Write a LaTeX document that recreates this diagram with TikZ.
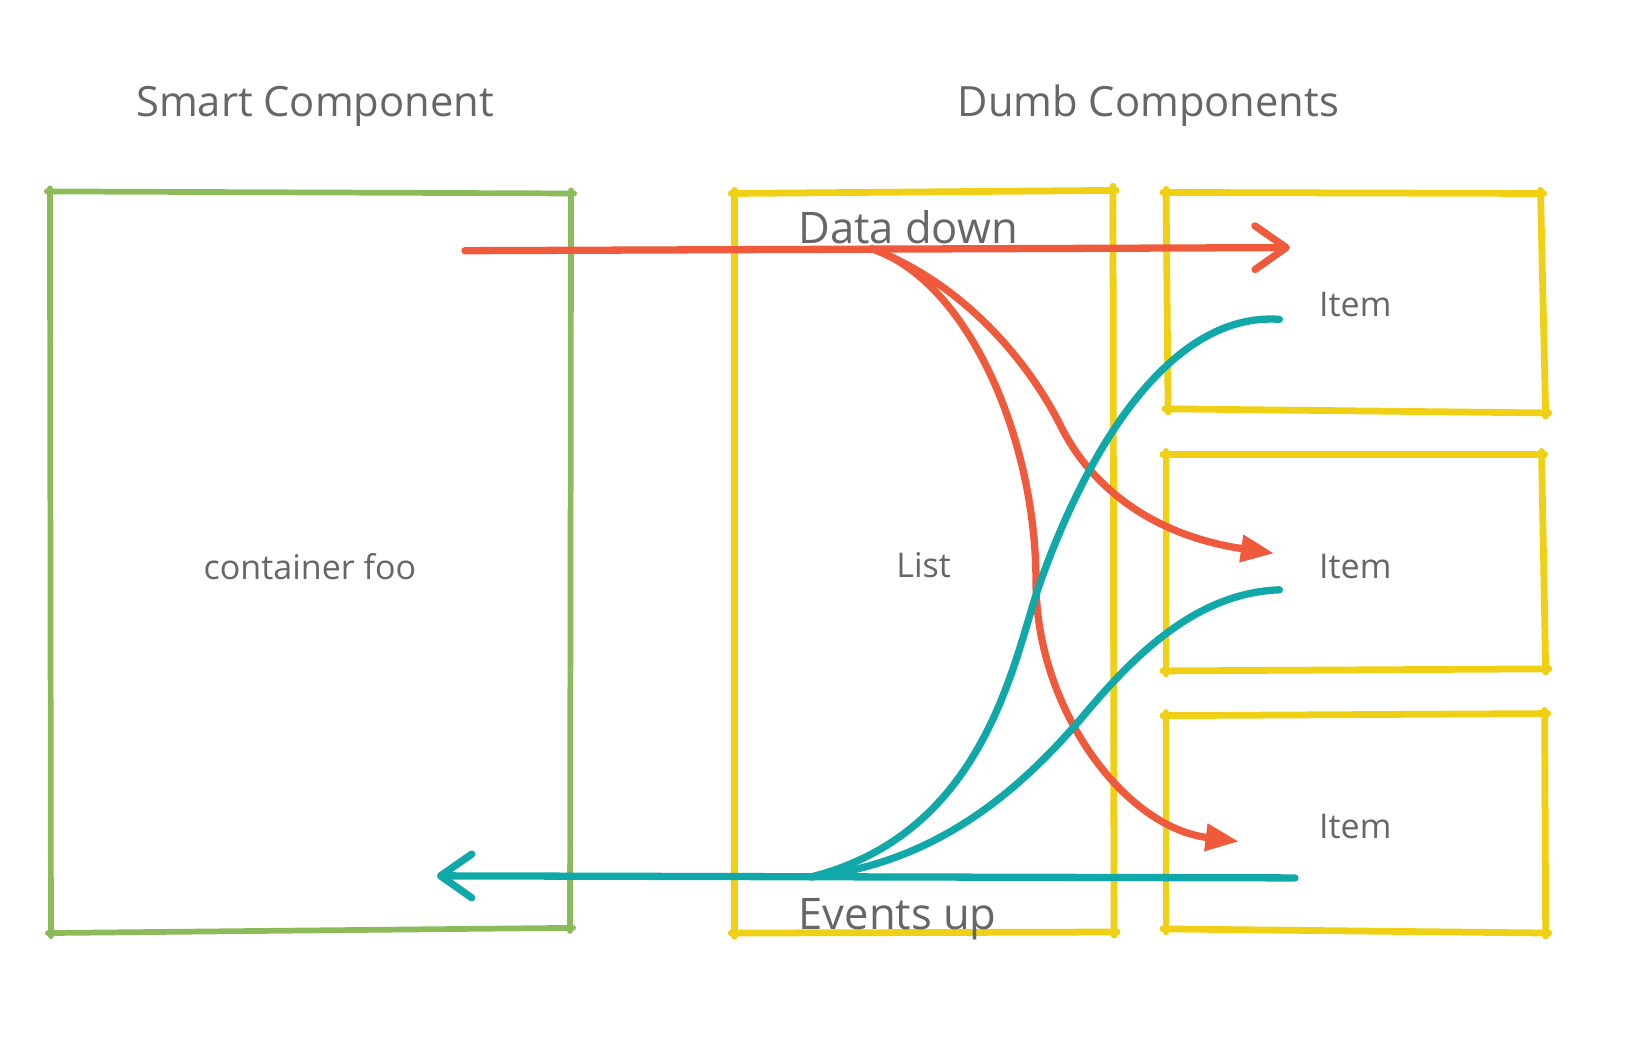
\documentclass[tikz,border=0pt]{standalone}
\usepackage{fontspec}
\setmainfont{Open Sans}
\usetikzlibrary{arrows.meta,calc}
\definecolor{txtgray}{HTML}{666666}
\definecolor{cgreen}{HTML}{8CBC5A}
\definecolor{cyellow}{HTML}{F0D014}
\definecolor{cred}{HTML}{F05A3C}
\definecolor{cteal}{HTML}{10A8A8}
\tikzset{
  gside/.style={draw=cgreen,line width=0.055cm,line cap=round},
  yside/.style={draw=cyellow,line width=0.065cm,line cap=round},
  redline/.style={draw=cred,line width=0.07cm,line cap=round,line join=round},
  tealline/.style={draw=cteal,line width=0.07cm,line cap=round,line join=round},
  title/.style={text=txtgray,font=\fontsize{11.4}{13}\selectfont,inner sep=0pt},
  flow/.style={text=txtgray,font=\fontsize{11.9}{13}\selectfont,inner sep=0pt},
  lab/.style={text=txtgray,font=\fontsize{9.3}{11}\selectfont,inner sep=0pt},
  barb/.style={-{Straight Barb[length=0.30cm,width=0.42cm,round]}},
  tri/.style={-{Triangle[length=0.32cm,width=0.25cm]}}
}
\begin{document}
\begin{tikzpicture}[x=0.01cm,y=-0.01cm]
\useasboundingbox (0,0) rectangle (1568,1020);
% titles
\node[title] (tsmart) at (303,102) {Smart Component};
\node[title] (tdumb) at (1104,102) {Dumb Components};
% green box
\coordinate (g1) at (48,184);
\coordinate (g2) at (549,186);
\coordinate (g3) at (548,892);
\coordinate (g4) at (49,897);
\draw[gside] ($(g1)+(-3,0)$) -- ($(g2)+(3,0)$);
\draw[gside] ($(g2)+(0,-3)$) -- ($(g3)+(0,3)$);
\draw[gside] ($(g3)+(3,0)$) -- ($(g4)+(-3,0)$);
\draw[gside] ($(g4)+(0,3)$) -- ($(g1)+(0,-3)$);
\node[lab] (cfoo) at (298,545) {container foo};
% list box
\coordinate (l1) at (706,186);
\coordinate (l2) at (1070,183);
\coordinate (l3) at (1071,896);
\coordinate (l4) at (706,897);
\draw[yside] ($(l1)+(-3,0)$) -- ($(l2)+(3,0)$);
\draw[yside] ($(l2)+(0,-4)$) -- ($(l3)+(0,3)$);
\draw[yside] ($(l3)+(3,0)$) -- ($(l4)+(-3,0)$);
\draw[yside] ($(l4)+(0,3)$) -- ($(l1)+(0,-3)$);
\node[lab] (list) at (888,543) {List};
% item boxes
\foreach \n/\ax/\ay/\bx/\by/\cx/\cy/\dx/\dy in {
  a/1121/185/1481/186/1486/397/1123/393,
  b/1121/437/1482/437/1486/643/1121/645,
  c/1121/688/1485/686/1486/897/1121/893}{
  \coordinate (\n1) at (\ax,\ay);
  \coordinate (\n2) at (\bx,\by);
  \coordinate (\n3) at (\cx,\cy);
  \coordinate (\n4) at (\dx,\dy);
  \draw[yside] ($(\n1)+(-3,0)$) -- ($(\n2)+(3,0)$);
  \draw[yside] ($(\n2)+(0,-3)$) -- ($(\n3)+(0,3)$);
  \draw[yside] ($(\n3)+(3,0)$) -- ($(\n4)+(-3,0)$);
  \draw[yside] ($(\n4)+(0,3)$) -- ($(\n1)+(0,-3)$);
}
\node[lab] (item1) at (1303,293) {Item};
\node[lab] (item2) at (1303,545) {Item};
\node[lab] (item3) at (1303,795) {Item};
% labels
\node[flow] (ddown) at (873,218) {Data down};
\node[flow] (evup) at (863,884) {Events up};
% red main arrow
\coordinate (rs) at (447,241);
\coordinate (rt) at (1240,238);
\coordinate (rb) at (838,239);
\draw[redline,barb] (rs) -- (rt);
% red curve to middle item
\coordinate (ra) at (1225,532);
\coordinate (rm1) at (1020,410);
\draw[redline,tri] (rb) .. controls (920,270) and (985,340) .. (rm1)
  .. controls (1050,470) and (1110,515) .. (ra);
% red curve to bottom item
\coordinate (rc) at (1191,809);
\coordinate (rm2) at (996,560);
\draw[redline,tri] (rb) .. controls (930,270) and (996,420) .. (rm2)
  .. controls (996,680) and (1080,795) .. (rc);
% teal main arrow
\coordinate (ts) at (1245,844);
\coordinate (tt) at (420,842);
\coordinate (tb) at (780,843);
\draw[tealline,barb] (ts) -- (tt);
% teal curve from top item
\coordinate (tc) at (1230,307);
\coordinate (tm1) at (1000,560);
\draw[tealline] (tc) .. controls (1130,300) and (1050,420) .. (tm1)
  .. controls (975,630) and (950,800) .. (tb);
% teal curve from middle item
\coordinate (td) at (1230,567);
\coordinate (tm2) at (1040,690);
\draw[tealline] (td) .. controls (1150,570) and (1090,630) .. (tm2)
  .. controls (980,760) and (900,830) .. (tb);
\end{tikzpicture}
\end{document}
